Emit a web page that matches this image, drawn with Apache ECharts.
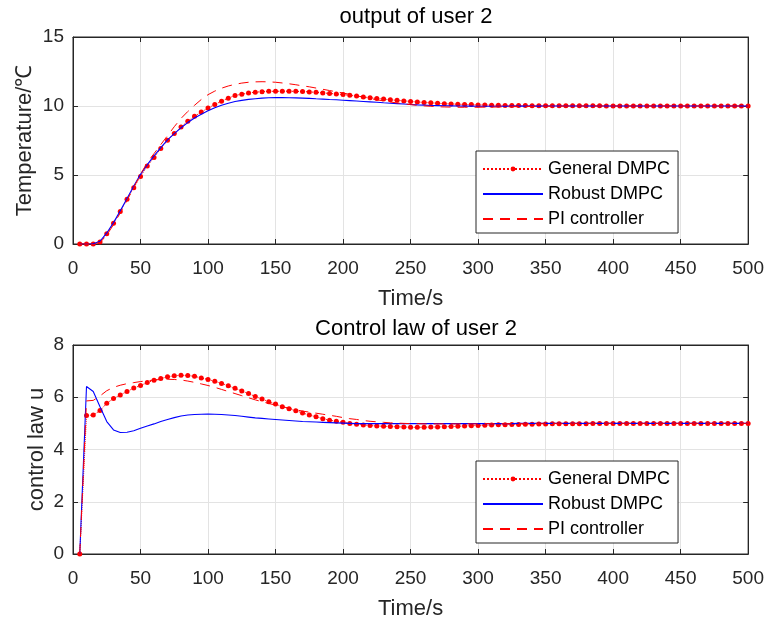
<!DOCTYPE html>
<html>
<head>
<meta charset="utf-8">
<script src="https://cdn.jsdelivr.net/npm/echarts@6/dist/echarts.min.js"></script>
<style>
html,body{margin:0;padding:0;background:#fff;}
#chart{width:767px;height:623px;}
</style>
</head>
<body>
<div id="chart"></div>
<script>
const time = [5,10,15,20,25,30,35,40,45,50,55,60,65,70,75,80,85,90,95,100,
105,110,115,120,125,130,135,140,145,150,155,160,165,170,175,180,185,190,195,200,
205,210,215,220,225,230,235,240,245,250,255,260,265,270,275,280,285,290,295,300,
305,310,315,320,325,330,335,340,345,350,355,360,365,370,375,380,385,390,395,400,
405,410,415,420,425,430,435,440,445,450,455,460,465,470,475,480,485,490,495,500];

const xTicks = [0,50,100,150,200,250,300,350,400,450,500];
const seriesNames = ['General DMPC','Robust DMPC','PI controller'];
const titles = ['output of user 2','Control law of user 2'];

// Top plot: temperature output
const generalTop = [0,0,0,0.15,0.74,1.5,2.35,3.24,4.08,4.9,
5.65,6.27,6.92,7.52,8.0,8.48,8.89,9.25,9.56,9.85,
10.11,10.35,10.57,10.76,10.86,10.94,11.0,11.04,11.06,11.07,
11.07,11.07,11.06,11.05,11.02,10.99,10.95,10.91,10.87,10.83,
10.77,10.72,10.66,10.6,10.55,10.5,10.45,10.41,10.37,10.33,
10.29,10.26,10.23,10.2,10.17,10.15,10.13,10.11,10.1,10.08,
10.07,10.06,10.05,10.04,10.04,10.03,10.03,10.02,10.02,10.02,
10.01,10.01,10.01,10.01,10.01,10.01,10.01,10.01,10,10,
10,10,10,10,10,10,10,10,10,10,
10,10,10,10,10,10,10,10,10,10];
const robustTop = [0,0,0.02,0.2,0.8,1.55,2.4,3.3,4.2,5.05,
5.75,6.38,6.98,7.55,8.0,8.42,8.8,9.13,9.4,9.65,
9.87,10.05,10.2,10.32,10.41,10.48,10.53,10.57,10.6,10.61,
10.61,10.6,10.59,10.57,10.55,10.52,10.5,10.47,10.45,10.42,
10.39,10.36,10.33,10.3,10.27,10.23,10.2,10.17,10.14,10.11,
10.08,10.06,10.04,10.03,10.02,10.01,10.0,9.99,9.99,9.98,
9.98,9.98,9.98,9.98,9.99,9.99,9.99,9.99,9.99,10,
10,10,10,10,10,10,10,10,10,10,
10,10,10,10,10,10,10,10,10,10,
10,10,10,10,10,10,10,10,10,10];
const piTop = [0,0,0,0.1,0.65,1.4,2.25,3.15,4.1,5.05,
5.9,6.55,7.2,7.85,8.5,9.1,9.6,10.05,10.47,10.82,
11.08,11.29,11.45,11.57,11.66,11.72,11.75,11.76,11.75,11.72,
11.67,11.61,11.54,11.46,11.39,11.3,11.21,11.12,11.03,10.94,
10.84,10.74,10.64,10.54,10.45,10.37,10.29,10.22,10.16,10.1,
10.05,10.01,9.98,9.95,9.93,9.92,9.91,9.91,9.91,9.91,
9.92,9.92,9.93,9.94,9.95,9.96,9.97,9.97,9.98,9.98,
9.99,9.99,9.99,10,10,10,10,10,10,10,
10,10,10,10,10,10,10,10,10,10,
10,10,10,10,10,10,10,10,10,10];

// Bottom plot: control law
const generalBot = [0,5.3,5.32,5.49,5.77,5.95,6.09,6.22,6.35,6.45,
6.56,6.65,6.72,6.78,6.82,6.84,6.83,6.8,6.74,6.68,
6.61,6.53,6.44,6.34,6.24,6.14,6.03,5.93,5.83,5.74,
5.64,5.56,5.48,5.4,5.32,5.25,5.18,5.12,5.08,5.04,
5.0,4.97,4.94,4.92,4.9,4.89,4.88,4.87,4.86,4.85,
4.85,4.85,4.86,4.86,4.87,4.88,4.89,4.9,4.91,4.92,
4.93,4.94,4.95,4.95,4.96,4.96,4.97,4.97,4.98,4.98,
4.99,4.99,4.99,4.99,4.99,4.99,5,5,5,5,
5,5,5,5,5,5,5,5,5,5,
5,5,5,5,5,5,5,5,5,5];
const robustBot = [0,6.41,6.22,5.64,5.07,4.75,4.65,4.66,4.72,4.81,
4.9,4.98,5.07,5.15,5.22,5.28,5.32,5.34,5.35,5.36,
5.35,5.34,5.32,5.3,5.27,5.24,5.21,5.19,5.17,5.15,
5.13,5.11,5.09,5.07,5.06,5.05,5.04,5.03,5.02,5.01,
5.0,4.99,4.99,4.99,4.99,4.99,4.99,4.99,4.99,4.99,
4.99,4.99,4.99,4.99,4.99,4.99,4.99,4.99,4.99,4.99,
4.99,4.99,4.99,4.99,4.99,5,5,5,5,5,
5,5,5,5,5,5,5,5,5,5,
5,5,5,5,5,5,5,5,5,5,
5,5,5,5,5,5,5,5,5,5];
const piBot = [0,5.86,5.88,6.05,6.25,6.38,6.46,6.52,6.56,6.6,
6.63,6.66,6.68,6.69,6.68,6.66,6.62,6.57,6.51,6.45,
6.38,6.3,6.22,6.14,6.06,5.98,5.9,5.83,5.76,5.7,
5.64,5.58,5.52,5.47,5.43,5.39,5.35,5.31,5.27,5.22,
5.18,5.15,5.11,5.08,5.06,5.04,5.02,5.01,5.0,4.99,
4.99,4.98,4.98,4.98,4.98,4.98,4.98,4.98,4.98,4.98,
4.99,4.99,4.99,4.99,4.99,4.99,4.99,5,5,5,
5,5,5,5,5,5,5,5,5,5,
5,5,5,5,5,5,5,5,5,5,
5,5,5,5,5,5,5,5,5,5];

const topY = {min:0, max:15, interval:5, name:'Temperature/\u2103', nameGap:37};
const botY = {min:0, max:8, interval:2, name:'control law u', nameGap:25};

const FONT = 'Liberation Sans, Arial, Helvetica, sans-serif';
const AX = '#262626';
const GRIDC = '#e3e3e3';

function pairs(vals){ return time.map((t,i)=>[t, vals[i]]); }

const grids = [
  {left:73, top:37, width:677, height:207},
  {left:73, top:345, width:677, height:209}
];

function mainX(gi){
  return {type:'value', gridIndex:gi, min:xTicks[0], max:xTicks[xTicks.length-1], interval:50,
    name:'Time/s', nameLocation:'middle', nameGap:44, nameMoveOverlap:false,
    nameTextStyle:{fontFamily:FONT, fontSize:22, color:AX},
    axisLine:{show:true, onZero:false, lineStyle:{color:AX, width:1}},
    axisTick:{show:true, inside:true, length:5, lineStyle:{color:AX}},
    axisLabel:{fontFamily:FONT, fontSize:19, color:AX, margin:15},
    splitLine:{show:true, lineStyle:{color:GRIDC, width:1}}};
}
function mirrorX(gi){
  return {type:'value', gridIndex:gi, position:'top', min:0, max:500, interval:50,
    axisLine:{show:true, onZero:false, lineStyle:{color:AX}},
    axisTick:{show:true, inside:true, length:5, lineStyle:{color:AX}},
    axisLabel:{show:false}, splitLine:{show:false}};
}
function mainY(gi, cfg){
  return {type:'value', gridIndex:gi, min:cfg.min, max:cfg.max, interval:cfg.interval,
    name:cfg.name, nameLocation:'middle', nameGap:cfg.nameGap, nameRotate:90, nameMoveOverlap:false,
    nameTextStyle:{fontFamily:FONT, fontSize:22, color:AX},
    axisLine:{show:true, onZero:false, lineStyle:{color:AX, width:1}},
    axisTick:{show:true, inside:true, length:5, lineStyle:{color:AX}},
    axisLabel:{fontFamily:FONT, fontSize:19, color:AX, margin:9},
    splitLine:{show:true, lineStyle:{color:GRIDC, width:1}}};
}
function mirrorY(gi, cfg){
  return {type:'value', gridIndex:gi, position:'right', min:cfg.min, max:cfg.max, interval:cfg.interval,
    axisLine:{show:true, onZero:false, lineStyle:{color:AX}},
    axisTick:{show:true, inside:true, length:5, lineStyle:{color:AX}},
    axisLabel:{show:false}, splitLine:{show:false}};
}

function makeSeries(gi, xi, yi, g, r, p){
  return [
    {name:seriesNames[0], type:'line', xAxisIndex:xi, yAxisIndex:yi, data:pairs(g),
     symbol:'circle', symbolSize:5, showSymbol:true,
     lineStyle:{type:'dotted', width:1, color:'#ff0000'}, itemStyle:{color:'#ff0000'}, z:3},
    {name:seriesNames[1], type:'line', xAxisIndex:xi, yAxisIndex:yi, data:pairs(r),
     symbol:'none', lineStyle:{type:'solid', width:1.1, color:'#0000ff'}, itemStyle:{color:'#0000ff'}, z:4},
    {name:seriesNames[2], type:'line', xAxisIndex:xi, yAxisIndex:yi, data:pairs(p),
     symbol:'none', lineStyle:{type:[10,7], width:1, color:'#ff0000'}, itemStyle:{color:'#ff0000'}, z:5}
  ];
}

function legendAt(top){
  return {show:true, orient:'vertical', left:476, top:top, width:200,
    padding:[8,8,4,6], itemWidth:60, itemHeight:6, itemGap:5,
    backgroundColor:'#ffffff', borderColor:AX, borderWidth:1, borderRadius:0,
    data:[
      {name:seriesNames[0]},
      {name:seriesNames[1], itemStyle:{opacity:0}},
      {name:seriesNames[2], itemStyle:{opacity:0}}
    ],
    textStyle:{fontFamily:FONT, fontSize:18, color:'#000', lineHeight:20}};
}

const option = {
  animation:false,
  backgroundColor:'#ffffff',
  title:[
    {text:titles[0], left:411, top:1, textAlign:'center',
     textStyle:{fontFamily:FONT, fontSize:22, fontWeight:'normal', color:'#000'}},
    {text:titles[1], left:411, top:313, textAlign:'center',
     textStyle:{fontFamily:FONT, fontSize:22, fontWeight:'normal', color:'#000'}}
  ],
  grid: grids.map(g=>Object.assign({show:true, borderColor:AX, borderWidth:1, backgroundColor:'transparent'}, g)),
  xAxis:[mainX(0), mainX(1), mirrorX(0), mirrorX(1)],
  yAxis:[mainY(0, topY), mainY(1, botY), mirrorY(0, topY), mirrorY(1, botY)],
  legend:[legendAt(151), legendAt(461)],
  series:[].concat(
    makeSeries(0, 0, 0, generalTop, robustTop, piTop),
    makeSeries(1, 1, 1, generalBot, robustBot, piBot)
  )
};

const chart = echarts.init(document.getElementById('chart'), null, {renderer:'canvas'});
chart.setOption(option);
</script>
</body>
</html>
